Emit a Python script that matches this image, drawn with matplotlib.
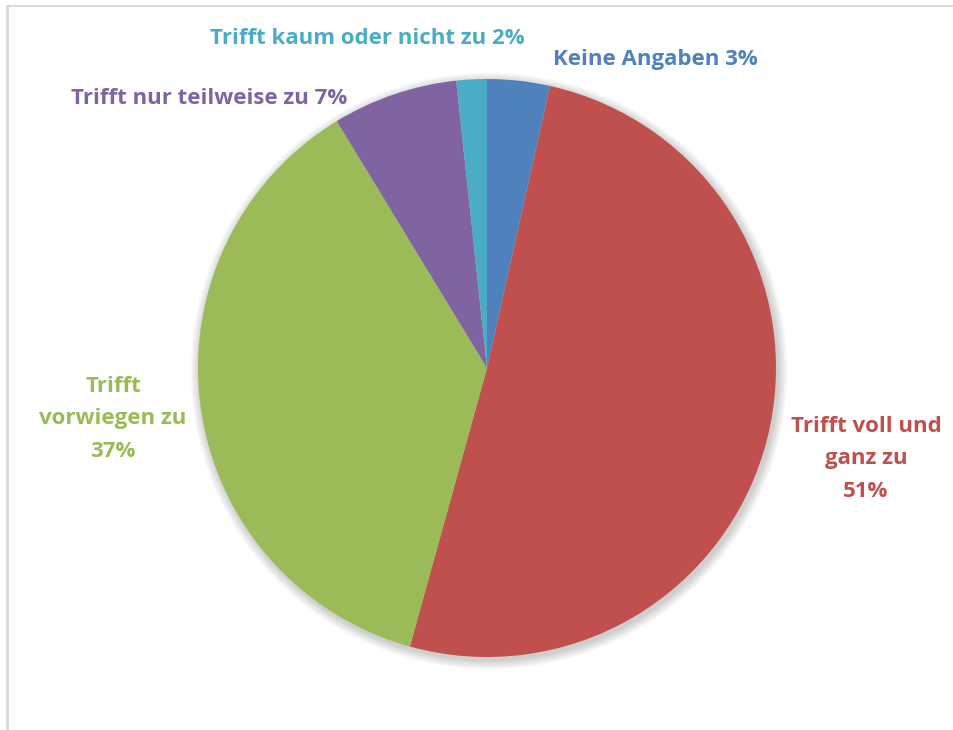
import matplotlib.pyplot as plt
from matplotlib.patches import Circle

categories = ["Keine Angaben", "Trifft voll und ganz zu", "Trifft vorwiegen zu",
              "Trifft nur teilweise zu", "Trifft kaum oder nicht zu"]
values = [3.5, 50.8, 37.0, 7.0, 1.7]
label_texts = ["Keine Angaben 3%", "Trifft voll und\nganz zu\n51%", "Trifft\nvorwiegen zu\n37%",
               "Trifft nur teilweise zu 7%", "Trifft kaum oder nicht zu 2%"]
colors = ["#4F81BD", "#C0504D", "#9BBB59", "#8064A2", "#4BACC6"]

W, H = 954, 730
fig = plt.figure(figsize=(W / 100, H / 100), dpi=100)
ax = fig.add_axes([0, 0, 1, 1])

cx, cy, r = 487, H - 368, 289

# soft shadow under the pie
for i in range(8):
    ax.add_patch(Circle((cx + 2, cy - 3), r + 1 + i * 1.2, color="black",
                        alpha=0.025, lw=0, zorder=0))

ax.pie(values, colors=colors, startangle=90, counterclock=False,
       center=(cx, cy), radius=r, wedgeprops=dict(linewidth=0), frame=False)

label_pos = [(655, 60), (866, 459), (113, 419), (209, 98), (367, 38)]
for txt, (x, y), c in zip(label_texts, label_pos, colors):
    ax.text(x, H - y, txt, color=c, fontsize=16, fontweight="bold",
            family="Open Sans", ha="center", va="center", linespacing=1.72, zorder=5)

# chart frame (only top and left visible)
ax.plot([7, 7], [H - 6, 0], color="#D9D9D9", lw=2, zorder=6)
ax.plot([7, W], [H - 6, H - 6], color="#D9D9D9", lw=1.5, zorder=6)

ax.set_xlim(0, W)
ax.set_ylim(0, H)
ax.set_aspect("equal")
ax.axis("off")

fig.savefig("out.png", dpi=100)
